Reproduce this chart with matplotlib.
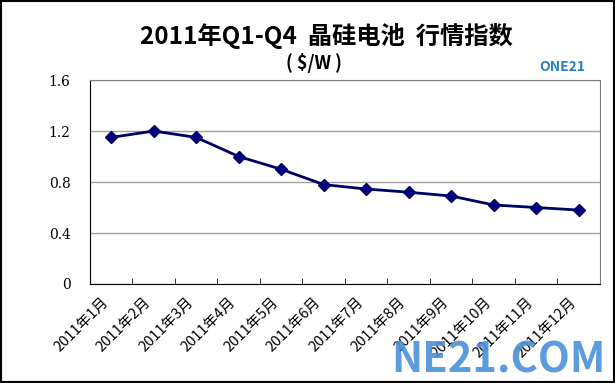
import matplotlib.pyplot as plt
import matplotlib.transforms as mtransforms
import numpy as np

plt.rcParams['font.family'] = ['Noto Sans CJK SC', 'DejaVu Sans']

# data
months = ['2011年%d月' % i for i in range(1, 13)]
prices = [1.15, 1.20, 1.15, 1.00, 0.90, 0.78, 0.745, 0.72, 0.69, 0.62, 0.60, 0.58]
y_ticks = [0, 0.4, 0.8, 1.2, 1.6]
y_tick_labels = ['0', '0.4', '0.8', '1.2', '1.6']

fig = plt.figure(figsize=(6.15, 3.83), dpi=100)
ax = fig.add_axes([0.1463, 0.2585, 0.8293, 0.5325])

x = np.arange(len(months))
ax.plot(x, prices, color='#000066', lw=2, marker='D', ms=6.5,
        mfc='#000080', mec='#000066', zorder=3)

ax.set_xlim(-0.5, len(months) - 0.5)
ax.set_ylim(0, 1.6)
ax.set_yticks(y_ticks)
ax.set_yticklabels(y_tick_labels, fontfamily='DejaVu Serif', fontsize=10)
ax.tick_params(axis='y', length=0, pad=14)
ax.grid(axis='y', color='#a0a0a0', lw=1)

# category ticks sit between the categories, pointing inward
ax.set_xticks(np.arange(len(months) + 1) - 0.5, minor=True)
ax.tick_params(axis='x', which='minor', direction='in', length=4, color='black')
ax.set_xticks(x)
ax.set_xticklabels(months, rotation=45, ha='right', va='top',
                   rotation_mode='anchor', fontsize=10.5)
ax.tick_params(axis='x', which='major', length=0, pad=8)
shift = mtransforms.ScaledTranslation(-0.10, 0, fig.dpi_scale_trans)
for lbl in ax.get_xticklabels():
    lbl.set_transform(lbl.get_transform() + shift)

for side in ['left', 'bottom']:
    ax.spines[side].set_color('black')
for side in ['top', 'right']:
    ax.spines[side].set_color('#808080')

fig.text(0.53, 0.905, '2011年Q1-Q4  晶硅电池  行情指数', ha='center', va='center',
         fontsize=17.5, fontweight='bold')
fig.text(0.51, 0.835, '( $/W )', ha='center', va='center',
         fontsize=13, fontweight='bold')

# site marks
fig.text(0.915, 0.825, 'ONE21', ha='center', va='center', fontsize=10,
         fontweight='bold', color='#2a7fc0')
fig.text(0.81, 0.06, 'NE21.COM', ha='center', va='center', fontsize=30,
         fontweight='bold', color='#4a90d9', alpha=0.9)

fig.patches.append(plt.Rectangle((0.001, 0.002), 0.997, 0.995, transform=fig.transFigure,
                                 fill=False, edgecolor='black', lw=1.5))

fig.savefig('out.png', dpi=100)
